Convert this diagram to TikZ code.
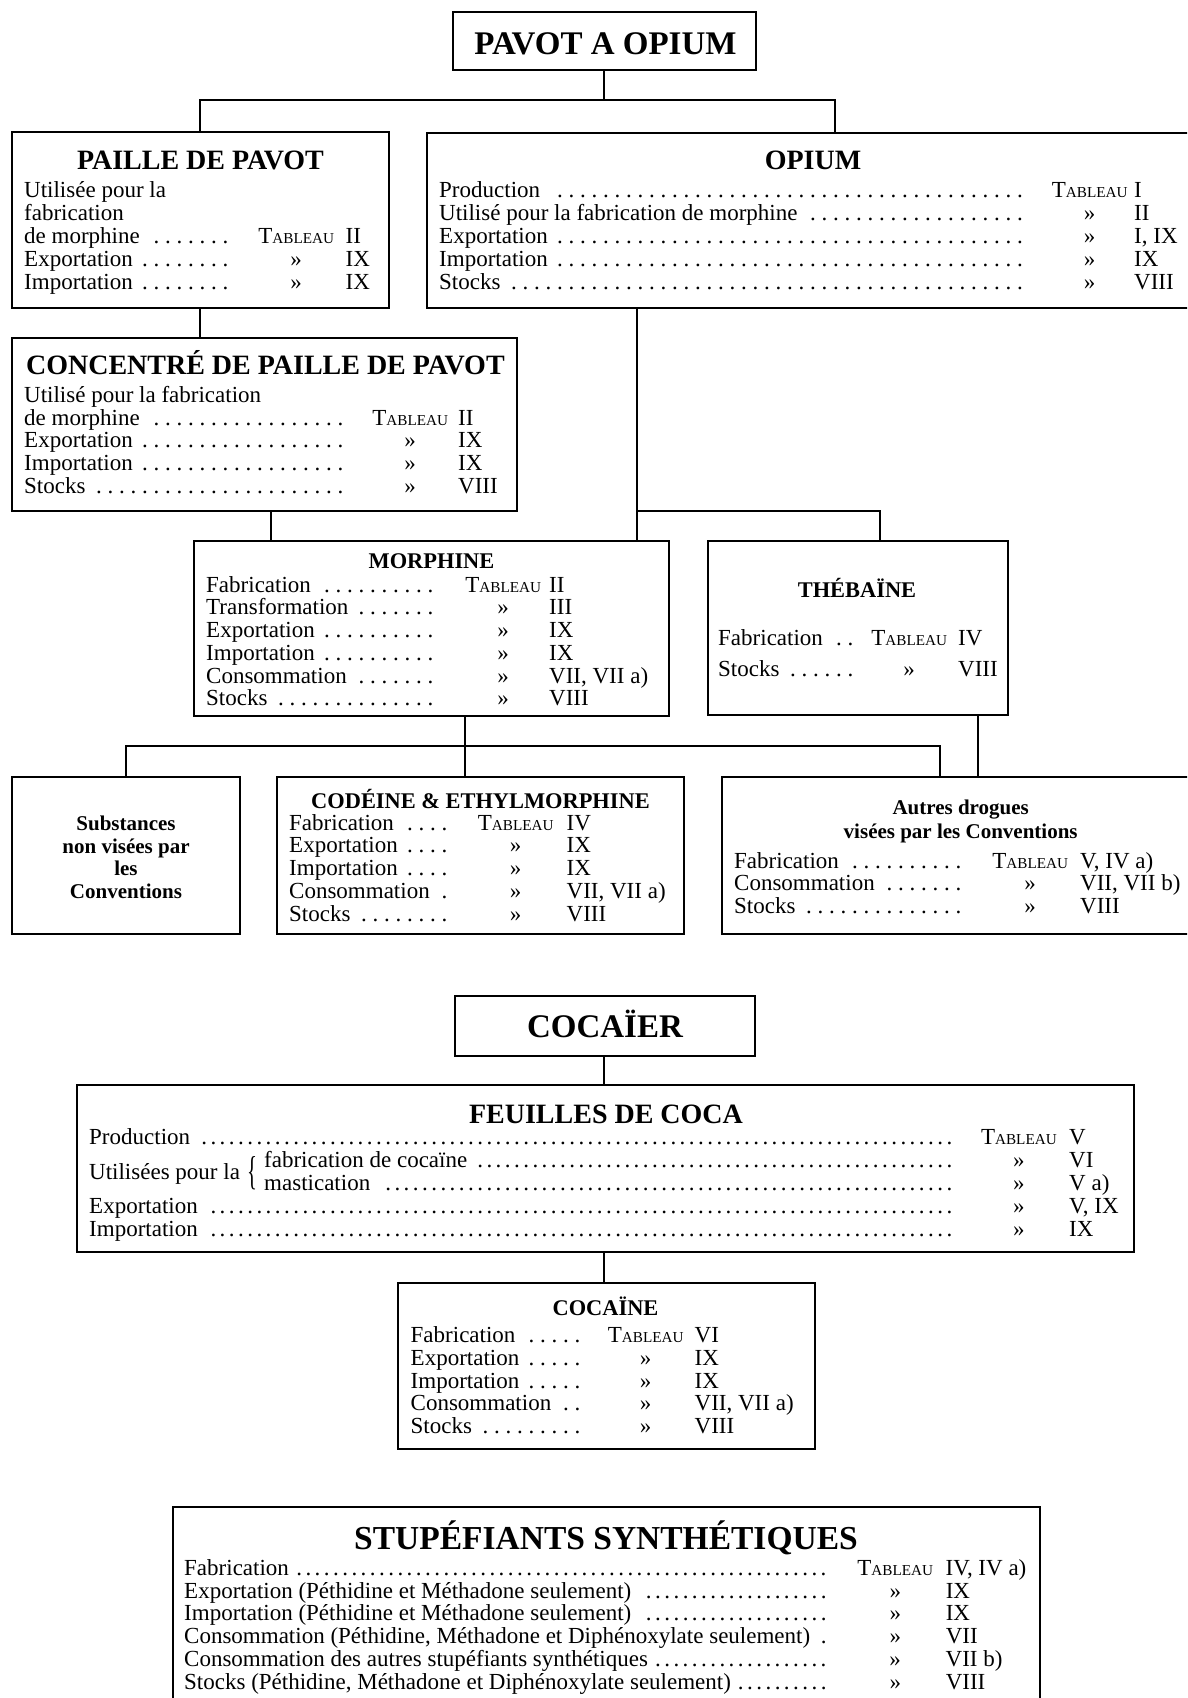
\documentclass[tikz,border=0pt]{standalone}
\usepackage{fontspec}
\setmainfont{Liberation Serif}
\newcommand\Tb{T{\fontsize{15.2}{15}\selectfont ABLEAU}}
\def\dsp{0.5em}
\newcommand\lf{\hskip0.2em\leaders\hbox to \dsp{\hss.\hss}\hfill}
\newcommand\geo[3]{\def\gD{#1}\def\gM{#2}\def\gV{#3}}
\newcommand\rw[3]{\hbox{\rlap{\hbox to \gD pt{#1\lf}}\rlap{\hskip\gM pt\hbox to 0pt{\hss#2\hss}}\hskip\gV pt\relax #3}}
\tikzset{
 box/.style={draw, line width=1.6pt, inner sep=0pt, outer sep=0pt, anchor=north west},
 ln/.style={line width=1.6pt},
 ttl/.style={inner sep=0pt, anchor=base, font=\bfseries\fontsize{#1}{#1}\selectfont},
 rows/.style={inner sep=0pt, anchor=base west, font=\fontsize{23}{#1}\selectfont},
}
\begin{document}
\begin{tikzpicture}[x=1pt,y=-1pt]
\useasboundingbox (0,0) rectangle (1187,1698);
\fill[white] (0,0) rectangle (1187,1698);
\clip (0,0) rectangle (1187,1698);
% ---------- boxes ----------
\node[box, minimum width=303pt, minimum height=58pt] (pavot) at (453,12) {};
\node[box, minimum width=377pt, minimum height=176pt] (paille) at (12,132) {};
\node[box, minimum width=780pt, minimum height=175pt] (opium) at (427,133) {};
\node[box, minimum width=505pt, minimum height=173pt] (concentre) at (12,338) {};
\node[box, minimum width=475pt, minimum height=175pt] (morphine) at (194,541) {};
\node[box, minimum width=300pt, minimum height=174pt] (thebaine) at (708,541) {};
\node[box, minimum width=228pt, minimum height=157pt] (substances) at (12,777) {};
\node[box, minimum width=407pt, minimum height=157pt] (codeine) at (277,777) {};
\node[box, minimum width=480pt, minimum height=157pt] (autres) at (722,777) {};
\node[box, minimum width=300pt, minimum height=60pt] (cocaier) at (455,996) {};
\node[box, minimum width=1057pt, minimum height=167pt] (feuilles) at (77,1085) {};
\node[box, minimum width=417pt, minimum height=166pt] (cocaine) at (398,1283) {};
\node[box, minimum width=867pt, minimum height=220pt] (stup) at (173,1507) {};
% ---------- connectors ----------
\coordinate (j1) at (604,100);
\coordinate (j1l) at (200,100);
\coordinate (j1r) at (835,100);
\draw[ln] (pavot.south -| j1) -- (j1);
\draw[ln] (j1l |- paille.north) -- (j1l) -- (j1r) -- (j1r |- opium.north);
\coordinate (j2) at (200,0);
\draw[ln] (j2 |- paille.south) -- (j2 |- concentre.north);
\coordinate (j3) at (271,0);
\draw[ln] (j3 |- concentre.south) -- (j3 |- morphine.north);
\coordinate (j4) at (637,511);
\coordinate (j4r) at (880,511);
\draw[ln] (j4 |- opium.south) -- (j4 |- morphine.north);
\draw[ln] (j4) -- (j4r) -- (j4r |- thebaine.north);
\coordinate (j5) at (465,746);
\coordinate (j5l) at (126,746);
\coordinate (j5r) at (940,746);
\draw[ln] (j5 |- morphine.south) -- (j5 |- codeine.north);
\draw[ln] (j5l |- substances.north) -- (j5l) -- (j5r) -- (j5r |- autres.north);
\coordinate (j6) at (978,0);
\draw[ln] (j6 |- thebaine.south) -- (j6 |- autres.north);
\coordinate (j7) at (604,0);
\draw[ln] (j7 |- cocaier.south) -- (j7 |- feuilles.north);
\draw[ln] (j7 |- feuilles.south) -- (j7 |- cocaine.north);
% ---------- titles ----------
\node[ttl=33] (pavotT) at (605.5,54.5) {PAVOT A OPIUM};
\node[ttl=28] (pailleT) at (200.5,169.6) {PAILLE DE PAVOT};
\node[ttl=28] (opiumT) at (813,169.6) {OPIUM};
\node[ttl=28] (concentreT) at (265.4,374.3) {CONCENTRÉ DE PAILLE DE PAVOT};
\node[ttl=22.4] (morphineT) at (431.5,568.3) {MORPHINE};
\node[ttl=22.4] (thebaineT) at (857,597.5) {THÉBAÏNE};
\node[ttl=22.4] (codeineT) at (480.5,808) {CODÉINE \& ETHYLMORPHINE};
\node[ttl=21] (subs1) at (126,830.2) {Substances};
\node[ttl=21] (subs2) at (126,853) {non visées par};
\node[ttl=21] (subs3) at (126,875.7) {les};
\node[ttl=21] (subs4) at (126,898.5) {Conventions};
\node[ttl=21] (autresT1) at (960.7,814) {Autres drogues};
\node[ttl=21] (autresT2) at (960.7,838) {visées par les Conventions};
\node[ttl=33] (cocaierT) at (605,1037.7) {COCAÏER};
\node[ttl=28] (feuillesT) at (606,1123) {FEUILLES DE COCA};
\node[ttl=22.4] (cocaineT) at (605.5,1315.7) {COCAÏNE};
\node[ttl=33.5] (stupT) at (606,1549) {STUPÉFIANTS SYNTHÉTIQUES};
% ---------- rows ----------
\node[rows=23] (pailleR) at (24,197.5) {\geo{212}{272}{321.5}\vtop{%
\hbox{Utilisée pour la}
\hbox{fabrication}
\rw{de morphine}{\Tb}{II}
\rw{Exportation}{»}{IX}
\rw{Importation}{»}{IX}}};
\node[rows=23] (opiumR) at (439,197.5) {\geo{590}{650.5}{695}\vtop{%
\rw{Production}{\Tb}{I}
\rw{Utilisé pour la fabrication de morphine}{»}{II}
\rw{Exportation}{»}{I, IX}
\rw{Importation}{»}{IX}
\rw{Stocks}{»}{VIII}}};
\node[rows=22.75] (concentreR) at (24,402.3) {\geo{328}{386}{434}\vtop{%
\hbox{Utilisé pour la fabrication}
\rw{de morphine}{\Tb}{II}
\rw{Exportation}{»}{IX}
\rw{Importation}{»}{IX}
\rw{Stocks}{»}{VIII}}};
\node[rows=22.75] (morphineR) at (206,592) {\geo{234}{297}{343}\vtop{%
\rw{Fabrication}{\Tb}{II}
\rw{Transformation}{»}{III}
\rw{Exportation}{»}{IX}
\rw{Importation}{»}{IX}
\rw{Consommation}{»}{VII, VII a)}
\rw{Stocks}{»}{VIII}}};
\node[rows=30.5] (thebaineR) at (718,645.6) {\geo{138}{191}{240}\vtop{%
\rw{Fabrication}{\Tb}{IV}
\rw{Stocks}{»}{VIII}}};
\node[rows=22.75] (codeineR) at (289,830.2) {\geo{172}{226.5}{277.5}\vtop{%
\rw{Fabrication}{\Tb}{IV}
\rw{Exportation}{»}{IX}
\rw{Importation}{»}{IX}
\rw{Consommation}{»}{VII, VII a)}
\rw{Stocks}{»}{VIII}}};
\node[rows=22.75] (autresR) at (734,868) {\geo{235}{296}{346}\vtop{%
\rw{Fabrication}{\Tb}{V, IV a)}
\rw{Consommation}{»}{VII, VII b)}
\rw{Stocks}{»}{VIII}}};
\node[rows=23] (feuillesR) at (89,1144.3) {\geo{868.5}{929.7}{980}\def\dsp{0.4em}\vtop{%
\rw{Production}{\Tb}{V}
\rw{\hskip175pt fabrication de cocaïne}{»}{VI}
\rw{\hskip175pt mastication}{»}{V a)}
\rw{Exportation}{»}{V, IX}
\rw{Importation}{»}{IX}}};
\node[rows=23] (utilisees) at (89,1179) {Utilisées pour la};
\node[inner sep=0pt, font=\fontsize{23}{23}\selectfont] (brace) at (252,1173) {\scalebox{0.9}[1.75]{\{}};
\node[rows=22.75] (cocaineR) at (410.5,1342.5) {\geo{177.5}{235}{284}\vtop{%
\rw{Fabrication}{\Tb}{VI}
\rw{Exportation}{»}{IX}
\rw{Importation}{»}{IX}
\rw{Consommation}{»}{VII, VII a)}
\rw{Stocks}{»}{VIII}}};
\node[rows=22.75] (stupR) at (184,1575.3) {\geo{651}{711}{761.5}\def\dsp{0.4em}\vtop{%
\rw{Fabrication}{\Tb}{IV, IV a)}
\rw{Exportation (Péthidine et Méthadone seulement)}{»}{IX}
\rw{Importation (Péthidine et Méthadone seulement)}{»}{IX}
\rw{Consommation (Péthidine, Méthadone et Diphénoxylate seulement)}{»}{VII}
\rw{Consommation des autres stupéfiants synthétiques}{»}{VII b)}
\rw{Stocks (Péthidine, Méthadone et Diphénoxylate seulement)}{»}{VIII}}};
\end{tikzpicture}
\end{document}
